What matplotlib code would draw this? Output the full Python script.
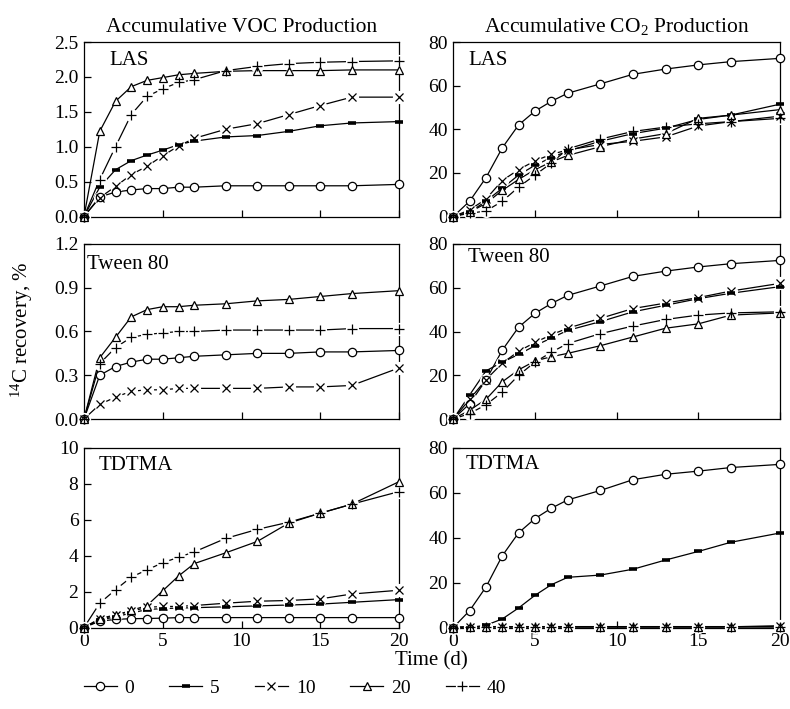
import matplotlib.pyplot as plt

plt.rcParams['font.family'] = ['Liberation Serif', 'DejaVu Serif']
plt.rcParams['mathtext.fontset'] = 'custom'
plt.rcParams['mathtext.rm'] = 'Liberation Serif'
plt.rcParams['mathtext.it'] = 'Liberation Serif:italic'

# === DATA ===
days = [0, 1, 2, 3, 4, 5, 6, 7, 9, 11, 13, 15, 17, 20]
doses = ['0', '5', '10', '20', '40']

# VOC, LAS
voc_las_0 = [0, 0.28, 0.35, 0.38, 0.40, 0.40, 0.42, 0.42, 0.44, 0.44, 0.44, 0.44, 0.44, 0.46]
voc_las_5 = [0, 0.42, 0.67, 0.80, 0.88, 0.95, 1.03, 1.08, 1.14, 1.16, 1.22, 1.30, 1.34, 1.36]
voc_las_10 = [0, 0.27, 0.43, 0.60, 0.72, 0.87, 1.01, 1.12, 1.25, 1.33, 1.46, 1.59, 1.71, 1.71]
voc_las_20 = [0, 1.22, 1.65, 1.86, 1.95, 1.99, 2.03, 2.05, 2.08, 2.09, 2.09, 2.09, 2.10, 2.10]
voc_las_40 = [0, 0.53, 1.00, 1.46, 1.72, 1.83, 1.92, 1.96, 2.09, 2.15, 2.19, 2.21, 2.22, 2.23]

# VOC, Tween 80
voc_tw_0 = [0, 0.30, 0.36, 0.39, 0.41, 0.41, 0.42, 0.43, 0.44, 0.45, 0.45, 0.46, 0.46, 0.47]
voc_tw_10 = [0, 0.10, 0.15, 0.19, 0.20, 0.20, 0.21, 0.21, 0.21, 0.21, 0.22, 0.22, 0.23, 0.35]
voc_tw_20 = [0, 0.42, 0.56, 0.70, 0.75, 0.77, 0.77, 0.78, 0.79, 0.81, 0.82, 0.84, 0.86, 0.88]
voc_tw_40 = [0, 0.38, 0.49, 0.56, 0.58, 0.59, 0.60, 0.60, 0.61, 0.61, 0.61, 0.61, 0.62, 0.62]

# VOC, TDTMA
voc_td_0 = [0, 0.35, 0.45, 0.49, 0.50, 0.52, 0.55, 0.55, 0.55, 0.55, 0.55, 0.55, 0.55, 0.55]
voc_td_5 = [0, 0.40, 0.60, 0.80, 1.00, 1.05, 1.08, 1.10, 1.15, 1.20, 1.25, 1.30, 1.40, 1.55]
voc_td_10 = [0, 0.50, 0.70, 0.90, 1.12, 1.17, 1.17, 1.22, 1.35, 1.46, 1.50, 1.59, 1.86, 2.07]
voc_td_20 = [0, 0.45, 0.68, 0.95, 1.22, 2.04, 2.86, 3.55, 4.15, 4.78, 5.80, 6.35, 6.85, 8.10]
voc_td_40 = [0, 1.35, 2.10, 2.80, 3.20, 3.60, 3.90, 4.20, 4.95, 5.45, 5.85, 6.35, 6.85, 7.55]

# CO2, LAS
co2_las_0 = [0, 7, 17.8, 31.5, 42, 48.3, 52.8, 56.5, 60.8, 65.2, 67.6, 69.5, 71, 72.5]
co2_las_5 = [0, 2, 7, 13, 19, 23.5, 27, 30, 34.5, 38, 40.5, 44.5, 46.5, 51.5]
co2_las_10 = [0, 3, 8, 16.5, 21.5, 25.5, 28.5, 30.5, 33, 34.5, 36.5, 41.5, 43.5, 46]
co2_las_20 = [0, 2, 6, 12, 17, 21.5, 25, 28, 32, 35.5, 38, 45, 46.5, 49]
co2_las_40 = [0, 1.5, 2.5, 7, 13.5, 19, 24.5, 31, 35.5, 39, 41, 42.5, 43.5, 45]

# CO2, Tween 80
co2_tw_0 = [0, 7, 17.8, 31.5, 42, 48.3, 52.8, 56.5, 60.8, 65.2, 67.6, 69.5, 71, 72.5]
co2_tw_5 = [0, 11, 22, 26, 29.5, 33.5, 37, 40.5, 44.5, 49, 52, 55, 57.5, 60.5]
co2_tw_10 = [0, 9, 18, 25.5, 31, 35, 38.5, 41.5, 46, 50.5, 53, 55.5, 58.5, 62]
co2_tw_20 = [0, 4, 9, 17, 22.5, 26.5, 28.5, 30, 33.5, 37.5, 41.5, 43.5, 47.5, 48.5]
co2_tw_40 = [0, 2.5, 6.5, 12.3, 20, 26, 30.5, 34.5, 39, 42.5, 45.5, 47.5, 48.5, 49]

# CO2, TDTMA
co2_td_0 = [0, 7.5, 18, 31.9, 42.1, 48.4, 53, 56.7, 60.9, 65.7, 68.1, 69.5, 71.1, 72.5]
co2_td_5 = [0, 0, 1, 3.8, 8.7, 14.3, 19, 22.3, 23.3, 25.9, 30, 33.8, 37.9, 42]
co2_td_10 = [0, 0.3, 0.3, 0.3, 0.3, 0.3, 0.3, 0.3, 0.3, 0.3, 0.3, 0.3, 0.3, 0.8]
co2_td_20 = [0, 0.2, 0.2, 0.2, 0.2, 0.2, 0.2, 0.2, 0.2, 0.2, 0.2, 0.2, 0.2, 0.2]
co2_td_40 = [0, 0.4, 0.4, 0.4, 0.4, 0.4, 0.4, 0.4, 0.4, 0.4, 0.4, 0.4, 0.4, 0.4]

# === STYLE ===
styles = {
    '0': dict(marker='o', ms=6, mfc='white', mec='k', mew=0.9),
    '5': dict(marker='_', ms=6, mec='k', mew=2.6),
    '10': dict(marker='x', ms=6, mec='k', mew=0.9),
    '20': dict(marker='^', ms=6, mfc='white', mec='k', mew=0.9),
    '40': dict(marker='+', ms=7.5, mec='k', mew=0.9),
}


def draw(ax, y, key):
    line, = ax.plot(days, y, color='k', lw=0.9, zorder=2, clip_on=False)
    parts = [line]
    if key in ('10', '40'):
        # white knock-out behind the marker so the line looks broken
        halo, = ax.plot(days, y, ls='none', marker='o', ms=9.5, mfc='white',
                        mec='none', zorder=3, clip_on=False)
        parts.append(halo)
    mk, = ax.plot(days, y, ls='none', zorder=4, clip_on=False, **styles[key])
    parts.append(mk)
    return tuple(parts)


fig = plt.figure(figsize=(7.9, 7.09), dpi=100)

W, H = 790, 709
rows = [(42, 216.5), (244, 419), (447.5, 627.5)]
cols = [(84, 399), (453.3, 780)]


def make_ax(r, c):
    x0, x1 = cols[c]
    y0, y1 = rows[r]
    return fig.add_axes([x0 / W, 1 - y1 / H, (x1 - x0) / W, (y1 - y0) / H])


panels = [
    (0, 0, 'LAS', {'0': voc_las_0, '5': voc_las_5, '10': voc_las_10, '20': voc_las_20, '40': voc_las_40},
     (0, 2.5), [0, 0.5, 1.0, 1.5, 2.0, 2.5], '%.1f', (0.08, 0.895)),
    (1, 0, 'Tween 80', {'0': voc_tw_0, '10': voc_tw_10, '20': voc_tw_20, '40': voc_tw_40},
     (0, 1.2), [0, 0.3, 0.6, 0.9, 1.2], '%.1f', (0.01, 0.885)),
    (2, 0, 'TDTMA', {'0': voc_td_0, '5': voc_td_5, '10': voc_td_10, '20': voc_td_20, '40': voc_td_40},
     (0, 10), [0, 2, 4, 6, 8, 10], '%d', (0.045, 0.9)),
    (0, 1, 'LAS', {'0': co2_las_0, '5': co2_las_5, '10': co2_las_10, '20': co2_las_20, '40': co2_las_40},
     (0, 80), [0, 20, 40, 60, 80], '%d', (0.046, 0.895)),
    (1, 1, 'Tween 80', {'0': co2_tw_0, '5': co2_tw_5, '10': co2_tw_10, '20': co2_tw_20, '40': co2_tw_40},
     (0, 80), [0, 20, 40, 60, 80], '%d', (0.046, 0.925)),
    (2, 1, 'TDTMA', {'0': co2_td_0, '5': co2_td_5, '10': co2_td_10, '20': co2_td_20, '40': co2_td_40},
     (0, 80), [0, 20, 40, 60, 80], '%d', (0.037, 0.905)),
]

handles = {}
for r, c, name, series, ylim, yticks, fmt, lab in panels:
    ax = make_ax(r, c)
    for key in doses:
        if key in series:
            handles[key] = draw(ax, series[key], key)
    ax.set_xlim(0, 20)
    ax.set_ylim(*ylim)
    ax.set_xticks([0, 5, 10, 15, 20])
    ax.set_yticks(yticks)
    ax.set_yticklabels([fmt % t for t in yticks])
    ax.tick_params(direction='in', length=5, width=0.9, labelsize=14, pad=4)
    if r < 2:
        ax.tick_params(labelbottom=False)
    for s in ax.spines.values():
        s.set_linewidth(0.9)
    ax.text(lab[0], lab[1], name, transform=ax.transAxes, fontsize=15,
            ha='left', va='center')
    if r == 0:
        t = 'Accumulative VOC Production' if c == 0 else 'Accumulative CO$_2$ Production'
        ax.set_title(t, fontsize=15.5, pad=7)

fig.text(22 / W, 1 - 330 / H, '$^{14}$C recovery, %', rotation=90,
         ha='center', va='center', fontsize=15)
fig.text(431 / W, 1 - 661 / H, 'Time (d)', ha='center', va='center', fontsize=15)

fig.legend([handles[k] for k in doses], doses, loc='center',
           bbox_to_anchor=(295 / W, 1 - 688 / H), ncol=5, frameon=False,
           numpoints=1, handlelength=1.7, columnspacing=1.8, handletextpad=0.4,
           fontsize=14)

fig.savefig('out.png', dpi=100, facecolor='white')
